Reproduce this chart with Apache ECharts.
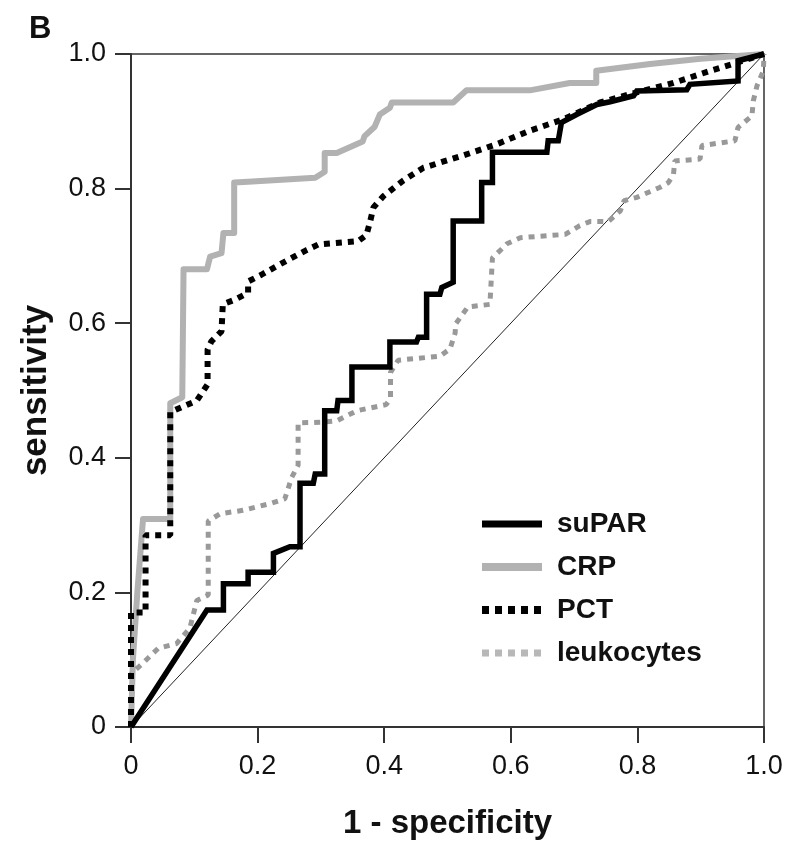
<!DOCTYPE html>
<html>
<head>
<meta charset="utf-8">
<script src="https://cdn.jsdelivr.net/npm/echarts@6/dist/echarts.min.js"></script>
<style>
html,body{margin:0;padding:0;background:#fff;}
#chart{width:801px;height:845px;}
</style>
</head>
<body>
<div id="chart"></div>
<script>
// ---- data (1 - specificity, sensitivity) ----
const tickValues = [0, 0.2, 0.4, 0.6, 0.8, 1.0];
const tickLabels = ['0', '0.2', '0.4', '0.6', '0.8', '1.0'];
const seriesNames = ['suPAR', 'CRP', 'PCT', 'leukocytes'];
const diagonal = [[0, 0], [1, 1]];

const supar = [
  [0,0],[0.12,0.174],[0.146,0.174],[0.146,0.213],[0.185,0.213],[0.185,0.23],
  [0.225,0.23],[0.225,0.258],[0.251,0.268],[0.267,0.268],[0.267,0.362],
  [0.288,0.362],[0.291,0.376],[0.306,0.376],[0.306,0.47],[0.325,0.47],
  [0.327,0.485],[0.349,0.485],[0.349,0.535],[0.409,0.535],[0.409,0.572],
  [0.451,0.572],[0.454,0.579],[0.467,0.579],[0.467,0.643],[0.488,0.643],
  [0.491,0.653],[0.509,0.661],[0.509,0.752],[0.554,0.752],[0.554,0.809],
  [0.571,0.809],[0.571,0.854],[0.657,0.854],[0.659,0.871],[0.675,0.871],
  [0.68,0.898],[0.704,0.91],[0.736,0.925],[0.757,0.929],[0.794,0.938],
  [0.799,0.945],[0.878,0.947],[0.883,0.955],[0.959,0.96],[0.959,0.99],[1,1]
];

const crp = [
  [0,0],[0.003,0.1],[0.01,0.2],[0.019,0.309],[0.062,0.309],[0.062,0.481],
  [0.081,0.49],[0.083,0.49],[0.083,0.68],[0.12,0.68],[0.125,0.699],
  [0.143,0.704],[0.146,0.704],[0.146,0.734],[0.163,0.734],[0.163,0.809],
  [0.185,0.81],[0.291,0.816],[0.306,0.825],[0.306,0.853],[0.325,0.853],
  [0.366,0.87],[0.369,0.878],[0.385,0.892],[0.393,0.91],[0.409,0.92],
  [0.412,0.928],[0.509,0.928],[0.53,0.946],[0.63,0.946],[0.693,0.957],
  [0.735,0.957],[0.735,0.975],[0.82,0.985],[0.9,0.993],[1,1]
];

const pct = [
  [0,0],[0,0.17],[0.023,0.17],[0.023,0.285],[0.062,0.285],[0.062,0.468],
  [0.067,0.47],[0.104,0.485],[0.121,0.509],[0.121,0.561],[0.127,0.573],
  [0.143,0.588],[0.145,0.628],[0.164,0.635],[0.185,0.645],[0.185,0.662],
  [0.206,0.672],[0.238,0.689],[0.278,0.709],[0.296,0.717],[0.359,0.722],
  [0.372,0.731],[0.378,0.752],[0.383,0.772],[0.399,0.789],[0.43,0.812],
  [0.462,0.831],[0.524,0.849],[0.578,0.866],[0.63,0.886],[0.683,0.903],
  [0.741,0.928],[0.799,0.943],[0.857,0.957],[0.915,0.975],[0.957,0.987],[1,1]
];

const leukocytes = [
  [0,0],[0.001,0.08],[0.019,0.095],[0.043,0.117],[0.072,0.124],[0.093,0.147],
  [0.104,0.188],[0.122,0.196],[0.122,0.306],[0.141,0.317],[0.177,0.322],
  [0.22,0.332],[0.243,0.339],[0.254,0.371],[0.264,0.389],[0.264,0.452],
  [0.304,0.453],[0.325,0.455],[0.357,0.47],[0.403,0.479],[0.41,0.488],
  [0.41,0.527],[0.422,0.545],[0.488,0.551],[0.504,0.562],[0.512,0.585],
  [0.513,0.599],[0.532,0.624],[0.567,0.628],[0.571,0.697],[0.594,0.718],
  [0.615,0.727],[0.686,0.732],[0.709,0.745],[0.725,0.751],[0.754,0.751],
  [0.773,0.767],[0.779,0.782],[0.799,0.787],[0.836,0.802],[0.849,0.809],
  [0.857,0.821],[0.859,0.841],[0.899,0.844],[0.902,0.864],[0.954,0.871],
  [0.959,0.891],[0.981,0.908],[0.983,0.93],[0.989,0.953],[0.999,0.975],[1,1]
];

// ---- chart ----
const chart = echarts.init(document.getElementById('chart'), null, {renderer: 'canvas'});
const FONT = 'Liberation Sans, Arial, sans-serif';
const labelFmt = v => {
  const i = tickValues.findIndex(t => Math.abs(t - v) < 1e-9);
  return i >= 0 ? tickLabels[i] : '';
};
const axisCommon = {
  type: 'value', min: 0, max: 1, interval: 0.2,
  splitLine: {show: false},
  axisLine: {show: true, lineStyle: {color: '#333', width: 2}},
  axisTick: {show: true, inside: false, length: 16, lineStyle: {color: '#333', width: 2}},
  axisLabel: {color: '#111', fontFamily: FONT, fontSize: 27, formatter: labelFmt},
  nameLocation: 'middle',
  nameTextStyle: {color: '#111', fontFamily: FONT, fontWeight: 'bold'}
};

const option = {
  backgroundColor: '#fff',
  animation: false,
  title: {
    text: 'B', left: 24, top: 9,
    textStyle: {fontFamily: FONT, fontWeight: 'bold', fontSize: 31, color: '#111'}
  },
  grid: {left: 131, right: 37, top: 54, bottom: 118, show: true, borderColor: '#333', borderWidth: 1.5, containLabel: false},
  xAxis: Object.assign({}, axisCommon, {
    name: '1 - specificity', nameGap: 80,
    nameTextStyle: Object.assign({}, axisCommon.nameTextStyle, {fontSize: 33}),
    axisLabel: Object.assign({}, axisCommon.axisLabel, {margin: 26})
  }),
  yAxis: Object.assign({}, axisCommon, {
    name: 'sensitivity', nameGap: 77,
    nameTextStyle: Object.assign({}, axisCommon.nameTextStyle, {fontSize: 35}),
    axisLabel: Object.assign({}, axisCommon.axisLabel, {margin: 25})
  }),
  legend: {
    orient: 'vertical', left: 478, top: 509, padding: 0,
    itemWidth: 60, itemHeight: 14, itemGap: 13,
    itemStyle: {opacity: 0},
    textStyle: {fontFamily: FONT, fontWeight: 'bold', fontSize: 28, color: '#111', lineHeight: 30, padding: [0, 0, 0, 10]},
    data: [
      {name: seriesNames[0], lineStyle: {width: 7}},
      {name: seriesNames[1], lineStyle: {width: 8}},
      {name: seriesNames[2], lineStyle: {width: 8, type: [7, 6]}},
      {name: seriesNames[3], lineStyle: {width: 7, type: [7, 6], color: '#b8b8b8'}}
    ]
  },
  series: [
    {type: 'line', name: 'diag', data: diagonal, symbol: 'none', silent: true,
     lineStyle: {color: '#222', width: 1}, z: 1},
    {type: 'line', name: seriesNames[1], data: crp, symbol: 'none', color: '#b2b2b2',
     lineStyle: {color: '#b2b2b2', width: 6, join: 'round'}, z: 2},
    {type: 'line', name: seriesNames[3], data: leukocytes, symbol: 'none', color: '#999999',
     lineStyle: {color: '#999999', width: 5, type: [6, 6], cap: 'butt'}, z: 3},
    {type: 'line', name: seriesNames[2], data: pct, symbol: 'none', color: '#000',
     lineStyle: {color: '#000', width: 6, type: [6, 6], cap: 'butt'}, z: 4},
    {type: 'line', name: seriesNames[0], data: supar, symbol: 'none', color: '#000',
     lineStyle: {color: '#000', width: 5.5, join: 'miter'}, z: 5}
  ]
};
chart.setOption(option);
</script>
</body>
</html>
